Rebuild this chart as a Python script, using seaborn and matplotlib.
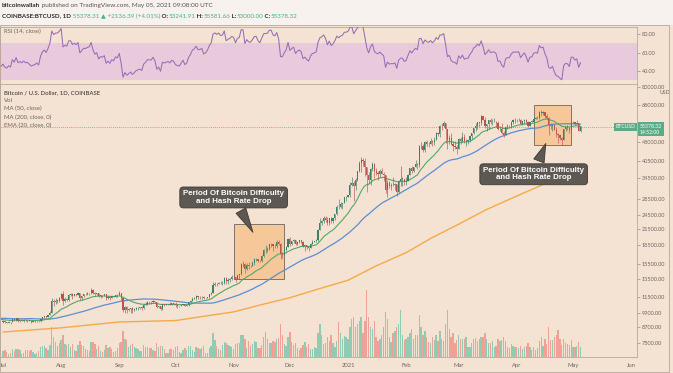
import numpy as np
import pandas as pd
import matplotlib
matplotlib.use("Agg")
import matplotlib.pyplot as plt
import seaborn as sns
from matplotlib.patches import Rectangle
from matplotlib.ticker import FixedLocator, NullLocator, FuncFormatter
from matplotlib.transforms import blended_transform_factory

# ---------------- data (COINBASE:BTCUSD, 1D) ----------------
# warm-up closes (before the visible window) used for MA / EMA / RSI
close_may20 = [8830, 8970, 8900, 8880, 9030, 9150, 9990, 9810, 9540, 8730,
               8570, 8820, 9310, 9800, 9310, 9380, 9680, 9730, 9780, 9510,
               9070, 9170, 9180, 8720, 8900, 8840, 9200, 9580, 9430, 9700, 9450]
close_jun20 = [10200, 9520, 9670, 9790, 9620, 9670, 9750, 9780, 9770, 9880,
               9270, 9470, 9480, 9390, 9430, 9520, 9460, 9380, 9300, 9360,
               9290, 9690, 9630, 9290, 9250, 9160, 9010, 9120, 9190, 9140]

close_jul20 = [9228, 9087, 9058, 9132, 9080, 9342, 9253, 9430, 9235, 9280,
               9234, 9300, 9240, 9250, 9197, 9133, 9155, 9170, 9208, 9160,
               9390, 9530, 9608, 9550, 9700, 9930, 11030, 10920, 11100, 11110, 11350]
high_jul20 = [9290, 9270, 9130, 9190, 9150, 9370, 9365, 9440, 9440, 9310,
              9300, 9345, 9345, 9280, 9270, 9210, 9190, 9250, 9220, 9230,
              9420, 9550, 9660, 9655, 9735, 10110, 11400, 11250, 11340, 11170, 11450]
low_jul20 = [9050, 9030, 9040, 9050, 8930, 9070, 9210, 9230, 9140, 9120,
             9180, 9150, 9190, 9140, 9170, 9000, 9080, 9110, 9120, 9130,
             9150, 9270, 9450, 9450, 9520, 9700, 9920, 10580, 10800, 10830, 10980]
vol_jul20 = [6, 7, 5, 3, 4, 8, 6, 8, 8, 7, 3, 4, 7, 7, 6, 7, 5, 3, 4, 6,
             10, 11, 11, 9, 7, 12, 30, 20, 15, 11, 14]

close_aug20 = [11800, 11070, 11230, 11190, 11740, 11770, 11600, 11750, 11680, 11880,
               11390, 11580, 11780, 11770, 11860, 11910, 12300, 11960, 11750, 11860,
               11530, 11680, 11650, 11750, 11330, 11460, 11330, 11540, 11480, 11710, 11660]
high_aug20 = [11860, 12120, 11480, 11420, 11790, 11910, 11920, 11800, 11810, 12070,
              11940, 11620, 11800, 11870, 11980, 11920, 12470, 12400, 12030, 11890,
              11890, 11690, 11710, 11800, 11780, 11530, 11600, 11560, 11600, 11720, 11770]
low_aug20 = [11220, 10660, 11000, 11080, 11100, 11560, 11300, 11540, 11530, 11640,
             11150, 11170, 11480, 11720, 11690, 11680, 11850, 11840, 11580, 11670,
             11520, 11390, 11510, 11600, 11150, 11260, 11170, 11340, 11450, 11480, 11520]
vol_aug20 = [17, 22, 13, 12, 13, 10, 13, 7, 6, 12, 16, 12, 11, 8, 7, 6, 15, 15, 13, 8,
             11, 6, 5, 7, 12, 9, 10, 8, 5, 6, 9]

close_sep20 = [11930, 11400, 10170, 10470, 10170, 10260, 10370, 10130, 10230, 10350,
               10400, 10440, 10330, 10680, 10790, 10950, 10940, 10930, 11080, 10920,
               10420, 10530, 10240, 10740, 10690, 10730, 10780, 10700, 10840, 10780]
high_sep20 = [12080, 11950, 11470, 10600, 10570, 10360, 10410, 10440, 10360, 10480,
              10420, 10460, 10560, 10780, 10950, 11100, 11050, 11040, 11180, 11080,
              10990, 10570, 10560, 10780, 10780, 10790, 10800, 10960, 10860, 10850]
low_sep20 = [11650, 11150, 10000, 9880, 9940, 10050, 9880, 9860, 10110, 10210,
             10210, 10310, 10200, 10260, 10640, 10690, 10770, 10800, 10880, 10830,
             10370, 10350, 10150, 10200, 10570, 10640, 10630, 10660, 10650, 10680]
vol_sep20 = [14, 15, 26, 18, 17, 10, 12, 13, 10, 9, 8, 6, 6, 12, 10, 10, 9, 9, 7, 6,
             14, 10, 11, 11, 8, 4, 4, 8, 8, 7]

close_oct20 = [10620, 10570, 10550, 10670, 10790, 10600, 10670, 10920, 11060, 11300,
               11380, 11540, 11430, 11430, 11500, 11320, 11370, 11500, 11750, 11920,
               12820, 12980, 12930, 13120, 13040, 13070, 13650, 13280, 13460, 13560, 13800]
high_oct20 = [10950, 10670, 10600, 10690, 10800, 10800, 10690, 10960, 11120, 11490,
              11440, 11720, 11560, 11550, 11630, 11540, 11420, 11520, 11820, 12010,
              13230, 13200, 13030, 13170, 13350, 13250, 13790, 13860, 13650, 13660, 14100]
low_oct20 = [10430, 10380, 10500, 10520, 10610, 10530, 10580, 10540, 10850, 11060,
             11250, 11200, 11250, 11260, 11270, 11220, 11260, 11340, 11410, 11720,
             11880, 12690, 12720, 12890, 12900, 12770, 13000, 13000, 12970, 13150, 13450]
vol_oct20 = [10, 11, 5, 4, 7, 9, 7, 11, 11, 7, 5, 10, 9, 8, 9, 11, 4, 4, 9, 11,
             24, 17, 11, 8, 7, 12, 15, 14, 12, 11, 10]

close_nov20 = [13760, 13560, 14030, 14150, 15590, 15590, 14840, 15480, 15330, 15310,
               15700, 16290, 16330, 16070, 15960, 16720, 17660, 17780, 17820, 18680,
               18710, 18420, 18370, 19160, 18730, 17150, 17140, 17720, 18180, 19700]
high_nov20 = [13890, 13820, 14070, 14240, 15750, 15970, 15770, 15650, 15840, 15460,
              15960, 16480, 16480, 16340, 16150, 16880, 17850, 18480, 18160, 18800,
              18960, 18720, 18770, 19420, 19490, 18920, 17460, 17900, 18350, 19850]
low_nov20 = [13560, 13240, 13520, 13530, 14080, 15180, 14350, 14730, 14820, 15100,
             15280, 15460, 15950, 15800, 15800, 15870, 16560, 17220, 17380, 17740,
             18160, 17620, 18000, 18060, 18610, 16340, 16520, 16880, 17550, 18180]
vol_nov20 = [8, 13, 14, 14, 22, 22, 18, 9, 16, 11, 13, 16, 15, 9, 9, 12, 20, 25, 18, 14,
             14, 16, 15, 18, 19, 33, 22, 13, 11, 20]

close_dec20 = [18790, 19220, 19450, 18700, 19150, 19370, 19170, 18320, 18550, 18250,
               18040, 18810, 19170, 19270, 19440, 21350, 22800, 23120, 23850, 23480,
               22720, 23820, 23250, 23720, 24700, 26490, 26280, 27040, 27360, 28890, 28990]
high_dec20 = [19920, 19300, 19580, 19530, 19170, 19420, 19390, 19290, 18640, 18560,
              18300, 18900, 19420, 19350, 19550, 21500, 23790, 23290, 24180, 24300,
              24100, 23840, 24120, 23800, 24780, 26860, 28400, 27500, 27400, 29020, 29300]
low_dec20 = [18330, 18520, 18900, 18600, 18560, 18900, 18910, 18200, 17600, 17910,
             17570, 18040, 18730, 19000, 19050, 19290, 21260, 22350, 22750, 23060,
             22390, 22350, 22700, 22710, 23450, 24500, 25800, 26100, 25950, 27320, 27900]
vol_dec20 = [25, 15, 12, 14, 9, 7, 9, 12, 15, 10, 13, 8, 8, 10, 9, 24, 33, 22, 13, 14,
             20, 16, 22, 14, 10, 16, 35, 24, 18, 21, 20]

close_jan21 = [29400, 32200, 33000, 31990, 33990, 36820, 39470, 40670, 40240, 38240,
               35550, 34000, 37390, 39150, 36770, 36020, 35800, 36630, 35920, 35480,
               30850, 33000, 32100, 32290, 32250, 32500, 30400, 33450, 34270, 34320, 33110]
high_jan21 = [29600, 33300, 34800, 33600, 34500, 36940, 40200, 41950, 41350, 41400,
              38300, 36600, 37850, 40100, 39700, 37950, 36850, 37400, 37850, 36400,
              35600, 33800, 33600, 32950, 34880, 32900, 32550, 33780, 38500, 34900, 34300]
low_jan21 = [28800, 29000, 32000, 28000, 31000, 33400, 36300, 36500, 38700, 35000,
             30400, 32600, 32400, 36700, 34400, 35400, 33900, 34900, 35800, 33400,
             30100, 28800, 31400, 30900, 31950, 30850, 29250, 30000, 31900, 32000, 32200]
vol_jan21 = [18, 30, 38, 40, 30, 33, 36, 40, 24, 36, 67, 40, 30, 28, 36, 20, 16, 18, 22, 30,
             45, 38, 20, 15, 24, 26, 30, 33, 47, 22, 17]

close_feb21 = [33530, 35510, 37670, 36950, 38290, 39260, 38900, 46400, 46500, 44840,
               47970, 47420, 47180, 48590, 47930, 49150, 52150, 51600, 55920, 55900,
               57490, 54090, 48890, 49700, 47050, 46280, 46110, 45140]
high_feb21 = [34700, 35900, 37800, 38600, 38300, 40900, 39700, 46750, 48200, 47300,
              48600, 48900, 48000, 49700, 49000, 50600, 52600, 52500, 56400, 57500,
              58350, 57500, 54200, 51400, 52100, 48400, 48400, 46650]
low_feb21 = [32300, 33400, 35400, 36100, 36550, 38200, 37400, 38100, 45000, 43800,
             43700, 46300, 46100, 47100, 46300, 47000, 48950, 50900, 50500, 54000,
             55500, 47800, 45000, 47100, 47000, 44100, 45100, 43000]
vol_feb21 = [18, 20, 24, 28, 18, 22, 22, 42, 30, 22, 26, 20, 15, 14, 20, 17, 22, 16, 26, 18,
             16, 33, 47, 28, 20, 24, 14, 17]

close_mar21 = [49590, 48440, 50350, 48370, 48760, 48880, 50970, 52390, 54880, 55850,
               57800, 57230, 61190, 59000, 55650, 56900, 58910, 57650, 58030, 58100,
               57350, 54100, 54340, 52300, 51300, 55070, 55840, 55780, 57620, 58790, 58800]
high_mar21 = [49800, 50200, 52650, 51800, 49450, 49200, 51450, 52400, 54900, 57400,
              58100, 58000, 61700, 61200, 60600, 56950, 58990, 60100, 59450, 59900,
              58600, 58400, 55800, 57200, 53200, 55100, 56600, 56500, 58400, 59400, 59800]
low_mar21 = [45000, 47100, 48100, 47500, 46300, 47100, 48300, 49300, 51800, 53100,
             54300, 55100, 56100, 59000, 54600, 53300, 54100, 57000, 56200, 57800,
             55500, 53800, 53100, 51700, 50400, 51300, 54500, 54700, 54900, 57000, 57100]
vol_mar21 = [22, 18, 18, 18, 20, 10, 10, 14, 18, 19, 16, 18, 20, 20, 24, 18, 14, 14, 16, 10,
             11, 18, 16, 17, 20, 16, 10, 9, 13, 11, 10]

close_apr21 = [58740, 58970, 57060, 58200, 59130, 57990, 56000, 58090, 58090, 59770,
               60000, 59860, 63580, 62960, 63220, 61390, 60030, 56240, 55710, 56470,
               53800, 51700, 51190, 50100, 49090, 54050, 55050, 54880, 53580, 57800]
high_apr21 = [59480, 60000, 59780, 58500, 59250, 59500, 58650, 58150, 58900, 61200,
              60700, 61200, 63800, 64900, 63800, 63600, 62500, 60400, 57600, 57000,
              56800, 55500, 52100, 51200, 50600, 54350, 55500, 56400, 55200, 57950]
low_apr21 = [57700, 58450, 56900, 56500, 56800, 57000, 55500, 55800, 57650, 57900,
             59400, 59300, 59700, 61300, 62000, 60100, 59600, 51500, 54200, 53500,
             53550, 50400, 47500, 48800, 47000, 48800, 53300, 53900, 52400, 53100]
vol_apr21 = [10, 9, 11, 8, 10, 11, 14, 10, 7, 10, 7, 9, 16, 20, 11, 18, 13, 30, 17, 17,
             20, 22, 27, 18, 12, 18, 14, 13, 12, 17]

close_may21 = [57830, 56600, 57200, 53241.91, 55378.32]
high_may21 = [58450, 57950, 58980, 57200, 55581.66]
low_may21 = [57100, 56100, 56600, 53050, 53000]
vol_may21 = [10, 10, 11, 15, 10]

# 200-day MA (date, value)
ma200_dates = ["2020-07-01", "2020-07-16", "2020-08-01", "2020-08-16", "2020-09-01",
               "2020-09-16", "2020-10-01", "2020-10-16", "2020-11-01", "2020-11-16",
               "2020-12-01", "2020-12-16", "2021-01-01", "2021-01-16", "2021-02-01",
               "2021-02-15", "2021-03-01", "2021-03-16", "2021-04-01", "2021-04-16",
               "2021-05-01", "2021-05-05"]
ma200_vals = [8300, 8460, 8630, 8860, 9110, 9170, 9230, 9600, 10000, 10700,
              11400, 12350, 13400, 15300, 17300, 19900, 22500, 25800, 29200, 32700,
              36200, 37100]

price_ticks = [7500, 8700, 9900, 11500, 13500, 15500, 18500, 21500, 24500, 28500,
               34500, 40500, 48000, 68000, 80000]
rsi_ticks = [40, 60, 80]
month_ticks = ["2020-07-01", "2020-08-01", "2020-09-01", "2020-10-01", "2020-11-01",
               "2020-12-01", "2021-01-01", "2021-02-01", "2021-03-01", "2021-04-01",
               "2021-05-01", "2021-06-01"]
month_labels = ["Jul", "Aug", "Sep", "Oct", "Nov", "Dec", "2021", "Feb", "Mar", "Apr", "May", "Jun"]
last_price = 55378.32

# ---------------- assemble ----------------
T0 = pd.Timestamp("2020-07-01")
months = [("2020-07-01", close_jul20, high_jul20, low_jul20, vol_jul20),
          ("2020-08-01", close_aug20, high_aug20, low_aug20, vol_aug20),
          ("2020-09-01", close_sep20, high_sep20, low_sep20, vol_sep20),
          ("2020-10-01", close_oct20, high_oct20, low_oct20, vol_oct20),
          ("2020-11-01", close_nov20, high_nov20, low_nov20, vol_nov20),
          ("2020-12-01", close_dec20, high_dec20, low_dec20, vol_dec20),
          ("2021-01-01", close_jan21, high_jan21, low_jan21, vol_jan21),
          ("2021-02-01", close_feb21, high_feb21, low_feb21, vol_feb21),
          ("2021-03-01", close_mar21, high_mar21, low_mar21, vol_mar21),
          ("2021-04-01", close_apr21, high_apr21, low_apr21, vol_apr21),
          ("2021-05-01", close_may21, high_may21, low_may21, vol_may21)]
rows = []
for start, c, h, l, v in months:
    d0 = pd.Timestamp(start)
    for i in range(len(c)):
        rows.append((d0 + pd.Timedelta(days=i), c[i], h[i], l[i], v[i]))
df = pd.DataFrame(rows, columns=["date", "close", "high", "low", "vol"])
warm = pd.Series(close_may20 + close_jun20,
                 index=pd.date_range("2020-05-01", periods=len(close_may20) + len(close_jun20)))
allc = pd.concat([warm, df.set_index("date")["close"]])
df["open"] = allc.shift(1).loc[df["date"]].values
df["x"] = (df["date"] - T0).dt.days

ema20 = allc.ewm(span=20, adjust=False).mean()
ma50 = allc.rolling(50).mean()
delta = allc.diff()
gain = delta.clip(lower=0).ewm(alpha=1 / 14, adjust=False).mean()
loss = (-delta.clip(upper=0)).ewm(alpha=1 / 14, adjust=False).mean()
rsi = 100 - 100 / (1 + gain / loss)
xa = np.array([(d - T0).days for d in allc.index])
vis = xa >= -3
lines = pd.DataFrame({"x": xa[vis], "ema20": ema20.values[vis], "ma50": ma50.values[vis],
                      "rsi": rsi.values[vis]})
ma200 = pd.DataFrame({"x": [(pd.Timestamp(d) - T0).days for d in ma200_dates], "v": ma200_vals})

# ---------------- style ----------------
sns.set_theme(style="white")
plt.rcParams["font.family"] = ["Lato", "DejaVu Sans"]
BG = "#f4e2d2"
PINK = "#e7cbdc"
GREEN_C = "#3f7f67"
RED_C = "#bb544e"
GREEN_V = "#92cbb3"
RED_V = "#efa196"
TXT = "#6e6660"
LAB_GREEN = "#5bab86"
CALL = "#5e5853"
SP = "#b9a99b"

W, H = 673, 373
fig = plt.figure(figsize=(W / 100, H / 100), dpi=100, facecolor=BG)
fig.patches.append(Rectangle((0, 1 - 25 / H), 1, 25 / H, transform=fig.transFigure,
                             fc="#f7f2ee", ec="none", zorder=-5))

XL = (-1.6, 338.1)
ax_r = fig.add_axes([0, 1 - 83.5 / H, 637 / W, 57 / H])
axv = fig.add_axes([0, 1 - 357 / H, 637 / W, 273 / H])
ax = fig.add_axes([0, 1 - 357 / H, 637 / W, 273 / H])
axv.set_zorder(1)
ax.set_zorder(2)
ax.patch.set_alpha(0)
for a in (ax_r, axv):
    a.set_facecolor(BG)

# ---- RSI pane ----
ax_r.axhspan(30, 70, color=PINK, lw=0, zorder=0)
sns.lineplot(data=lines, x="x", y="rsi", ax=ax_r, color="#9a6cb4", lw=0.75, zorder=3)
ax_r.set_xlim(*XL)
ax_r.set_ylim(26.5, 88.1)
ax_r.set_xticks([])
ax_r.set_xlabel("")
ax_r.set_ylabel("")
ax_r.yaxis.tick_right()
ax_r.yaxis.set_major_locator(FixedLocator(rsi_ticks))
ax_r.yaxis.set_major_formatter(FuncFormatter(lambda v, p: f"{v:.2f}"))
ax_r.tick_params(axis="y", labelsize=4.0, labelcolor=TXT, length=2, width=0.5, color="#9a8e84", pad=1.5)
ax_r.text(0.006, (83.5 - 31) / 57, "RSI (14, close)", transform=ax_r.transAxes,
          fontsize=4.3, color=TXT, va="center", ha="left")

# ---- volume ----
vcol = [GREEN_V if c >= o else RED_V for c, o in zip(df["close"], df["open"])]
axv.bar(df["x"], df["vol"], width=0.72, color=vcol, lw=0)
axv.set_xlim(*XL)
axv.set_ylim(0, 273)
axv.set_xticks([])
axv.set_yticks([])
for s in axv.spines.values():
    s.set_visible(False)

# ---- price pane ----
ax.set_yscale("log")
ccol = [GREEN_C if c >= o else RED_C for c, o in zip(df["close"], df["open"])]
bot = np.minimum(df["open"], df["close"])
hgt = np.maximum(np.abs(df["close"] - df["open"]), bot * 0.002)
ax.vlines(df["x"], df["low"], df["high"], colors=ccol, lw=0.45, zorder=3)
ax.bar(df["x"], hgt, bottom=bot, width=0.62, color=ccol, lw=0, zorder=3)

sns.lineplot(data=ma200, x="x", y="v", ax=ax, color="#f4ab45", lw=1.0, zorder=2)
sns.lineplot(data=lines, x="x", y="ma50", ax=ax, color="#5b8fd4", lw=0.9, zorder=2)
sns.lineplot(data=lines, x="x", y="ema20", ax=ax, color="#55a86a", lw=0.8, zorder=2)

ax.axhline(last_price, color=LAB_GREEN, lw=0.6, ls=(0, (1, 1.5)), zorder=1)

ax.set_xlim(*XL)
ax.set_ylim(6590, 82250)
ax.set_xlabel("")
ax.set_ylabel("")
ax.yaxis.tick_right()
ax.yaxis.set_major_locator(FixedLocator(price_ticks))
ax.yaxis.set_minor_locator(NullLocator())
ax.yaxis.set_major_formatter(FuncFormatter(lambda v, p: f"{v:.2f}"))
ax.tick_params(axis="y", labelsize=4.0, labelcolor=TXT, length=2, width=0.5, color="#9a8e84", pad=1.5)
xt = [(pd.Timestamp(d) - T0).days for d in month_ticks]
ax.xaxis.set_major_locator(FixedLocator(xt))
ax.set_xticklabels(month_labels)
ax.xaxis.set_minor_locator(NullLocator())
ax.tick_params(axis="x", labelsize=4.2, labelcolor=TXT, length=2, width=0.5, color="#9a8e84", pad=2.5)
ax.text(1.035, (357 - 92) / 273, "USD", transform=ax.transAxes, fontsize=3.8, color=TXT,
        ha="left", va="center")

for a in (ax_r, ax):
    for s in a.spines.values():
        s.set_color(SP)
        s.set_linewidth(0.6)

# legend block
legend_items = [("Bitcoin / U.S. Dollar, 1D, COINBASE", 92.5, "#4e4844", "semibold"),
                ("Vol", 100.5, TXT, "normal"),
                ("MA (50, close)", 108.8, TXT, "normal"),
                ("MA (200, close, 0)", 117.1, TXT, "normal"),
                ("EMA (20, close, 0)", 125.4, TXT, "normal")]
for s, py, col, wt in legend_items:
    ax.text(0.006, (357 - py) / 273, s, transform=ax.transAxes, fontsize=4.3, color=col,
            fontweight=wt, ha="left", va="center", zorder=6)

# last price labels
bt = blended_transform_factory(ax.transAxes, ax.transData)
ax.text(0.997, last_price, "BTCUSD", transform=bt, ha="right", va="center", fontsize=3.7,
        color="white", zorder=7,
        bbox=dict(boxstyle="square,pad=0.3", fc=LAB_GREEN, ec="none"))
ax.annotate("55378.32\n14:52:00", xy=(1.0, last_price), xycoords=bt, xytext=(2.0, 2.2),
            textcoords="offset points", ha="left", va="top", fontsize=3.7, color="white",
            linespacing=1.25, zorder=7, annotation_clip=False,
            bbox=dict(boxstyle="square,pad=0.3", fc=LAB_GREEN, ec="none"))

# highlighted periods
hl = [("2020-11-01", "2020-11-28", 13530, 22450),
      ("2021-04-10", "2021-04-30", 47000, 68000)]
for d0, d1, lo, hi in hl:
    x0 = (pd.Timestamp(d0) - T0).days
    x1 = (pd.Timestamp(d1) - T0).days
    ax.add_patch(Rectangle((x0, lo), x1 - x0, hi - lo, fc="#f7c48f", ec="#6f6255",
                           lw=0.7, alpha=0.85, zorder=1.5))

callouts = [("2020-11-12", 20400, "2020-11-01", 28810),
            ("2021-04-17", 48600, "2021-04-10", 35700)]
for dtip, ytip, dtxt, ytxt in callouts:
    ax.annotate("Period Of Bitcoin Difficulty\nand Hash Rate Drop",
                xy=((pd.Timestamp(dtip) - T0).days, ytip),
                xytext=((pd.Timestamp(dtxt) - T0).days, ytxt),
                ha="center", va="center", fontsize=5.7, fontweight="bold", color="white",
                family=["Liberation Sans", "DejaVu Sans"], linespacing=1.05, zorder=9,
                bbox=dict(boxstyle="round,pad=0.42,rounding_size=0.45", fc=CALL, ec="#3d3835", lw=0.6),
                arrowprops=dict(arrowstyle="wedge,tail_width=1.4,shrink_factor=0.5",
                                fc=CALL, ec="#3d3835", lw=0.6))

# frame around chart area
fig.patches.append(Rectangle((0, 1 / H), 668.5 / W, 347 / H, transform=fig.transFigure,
                             fc="none", ec=SP, lw=0.6, zorder=10))

# ---------------- header ----------------
renderer = fig.canvas.get_renderer()


def runs(pieces, x0, py, size=4.6):
    x = x0
    for s, col, wt in pieces:
        t = fig.text(x / W, 1 - py / H, s, color=col, fontsize=size, fontweight=wt,
                     ha="left", va="center")
        x += t.get_window_extent(renderer).width


HG = "#48b085"
runs([("bitcoinwallah", "#2c2c2c", "bold"),
      (" published on TradingView.com, May 05, 2021 09:08:00 UTC", "#555555", "normal")], 2, 5.5)
runs([("COINBASE:BTCUSD, 1D", "#2c2c2c", "bold"),
      (" 55378.31 \u25b2 +2136.39 (+4.01%)", HG, "normal"),
      (" O:", "#2c2c2c", "bold"), ("53241.91", HG, "normal"),
      (" H:", "#2c2c2c", "bold"), ("55581.66", HG, "normal"),
      (" L:", "#2c2c2c", "bold"), ("53000.00", HG, "normal"),
      (" C:", "#2c2c2c", "bold"), ("55378.32", HG, "normal")], 2, 16, size=4.5)

fig.savefig("out.png", dpi=100, facecolor=BG)
